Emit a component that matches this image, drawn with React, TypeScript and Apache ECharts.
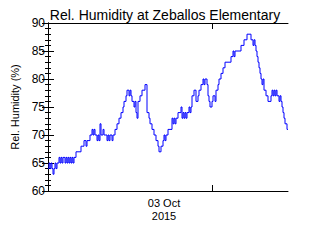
import React, { useEffect, useRef } from "react";
import * as echarts from "echarts";

// x positions (sample index offset, 1 unit apart) and relative humidity (%)
const xStart = 0;
const xStep = 1;
const humidity = [
  64, 65, 64, 65, 64, 63, 64, 65, 64, 65,
  65, 66, 65, 66, 65, 66, 66, 65, 66, 65,
  66, 65, 66, 65, 66, 65, 66, 66, 67, 67,
  67, 67, 67, 68, 68, 68, 69, 69, 68, 69,
  69, 69, 70, 70, 71, 70, 71, 70, 70, 69,
  70, 69, 72, 70, 70, 71, 70, 70, 70, 69,
  70, 69, 70, 70, 69, 70, 70, 71, 71, 72,
  72, 73, 73, 74, 74, 75, 76, 76, 77, 78,
  78, 77, 78, 77, 76, 76, 75, 76, 74, 73,
  76, 76, 77, 77, 78, 78, 78, 79, 79, 74,
  74, 73, 72, 72, 71, 71, 70, 70, 69, 69,
  68, 67, 67, 68, 68, 69, 70, 69, 70, 70,
  71, 71, 71, 71, 73, 72, 73, 72, 73, 73,
  74, 74, 74, 75, 73, 74, 73, 74, 73, 74,
  74, 75, 74, 75, 77, 77, 78, 78, 76, 76,
  77, 78, 78, 79, 79, 80, 79, 80, 80, 79,
  77, 76, 75, 75, 76, 77, 77, 76, 78, 78,
  79, 80, 80, 81, 81, 82, 82, 83, 83, 83,
  83, 83, 83, 84, 84, 85, 84, 85, 85, 85,
  85, 85, 85, 86, 86, 86, 87, 87, 87, 88,
  88, 88, 88, 87, 87, 86, 87, 86, 85, 84,
  83, 82, 81, 80, 79, 80, 78, 78, 77, 77,
  76, 76, 76, 77, 78, 77, 78, 77, 78, 77,
  77, 76, 77, 76, 75, 74, 73, 72, 72, 71,
  71,
];
const yTicks = [60, 65, 70, 75, 80, 85, 90];
const dateTickPos = [164];
const dateLabelPos = [116];
const dateLabel = "03 Oct\n2015";
const titleText = "Rel. Humidity at Zeballos Elementary";
const yName = "Rel. Humidity (%)";

export default function App() {
  const ref = useRef<HTMLDivElement>(null);
  useEffect(() => {
    document.body.style.margin = "0";
    const chart = echarts.init(ref.current!, null, { renderer: "svg" });
    const data = humidity.map((v, i) => [xStart + i * xStep, v]);
    const font = "Liberation Sans";
    const axisLine = { show: true, lineStyle: { color: "#000", width: 1 } };
    chart.setOption({
      animation: false,
      backgroundColor: "#fff",
      title: {
        text: titleText,
        left: 160,
        top: 3,
        textAlign: "center",
        textStyle: { fontFamily: font, fontSize: 14, fontWeight: "normal", color: "#000" },
      },
      grid: { left: 48, right: 32, top: 23, bottom: 49 },
      xAxis: [
        {
          type: "value",
          min: 0,
          max: 240,
          position: "bottom",
          axisLine,
          splitLine: { show: false },
          axisTick: { show: true, inside: true, length: 6, customValues: dateTickPos, lineStyle: { color: "#000" } },
          axisLabel: {
            show: true,
            customValues: dateLabelPos,
            formatter: () => dateLabel,
            fontFamily: font,
            fontSize: 11,
            color: "#000",
            margin: 5,
            lineHeight: 13,
          },
        },
        {
          type: "value",
          min: 0,
          max: 240,
          position: "top",
          axisLine,
          splitLine: { show: false },
          axisTick: { show: true, inside: true, length: 6, customValues: dateTickPos, lineStyle: { color: "#000" } },
          axisLabel: { show: false },
        },
      ],
      yAxis: [
        {
          type: "value",
          min: 60,
          max: 90,
          interval: 5,
          position: "left",
          name: yName,
          nameLocation: "middle",
          nameGap: 23,
          nameTextStyle: { fontFamily: font, fontSize: 11, color: "#000" },
          axisLine,
          splitLine: { show: false },
          axisTick: { show: true, inside: true, length: 6, lineStyle: { color: "#000" } },
          minorTick: { show: true, splitNumber: 5, length: 3, lineStyle: { color: "#000" } },
          axisLabel: {
            fontFamily: font,
            fontSize: 12,
            color: "#000",
            margin: 3,
            formatter: (v: number) => (yTicks.includes(v) ? String(v) : ""),
          },
        },
        {
          type: "value",
          min: 60,
          max: 90,
          interval: 5,
          position: "right",
          axisLine,
          splitLine: { show: false },
          axisTick: { show: true, inside: true, length: 6, lineStyle: { color: "#000" } },
          minorTick: { show: true, splitNumber: 5, length: 3, lineStyle: { color: "#000" } },
          axisLabel: { show: false },
        },
      ],
      series: [
        {
          type: "line",
          data,
          step: "end",
          showSymbol: false,
          lineStyle: { color: "#0000ff", width: 1 },
          xAxisIndex: 0,
          yAxisIndex: 0,
        },
      ],
    });
    return () => chart.dispose();
  }, []);
  return <div ref={ref} style={{ width: 320, height: 240 }} />;
}
